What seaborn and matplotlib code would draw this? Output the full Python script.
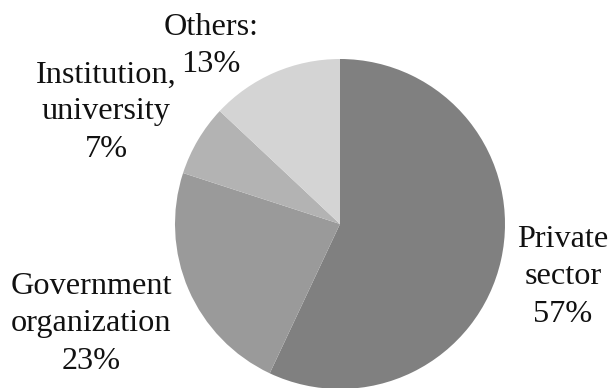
import matplotlib.pyplot as plt
import seaborn as sns

# slice data, clockwise from 12 o'clock
sectors = ["Private\nsector", "Government\norganization", "Institution,\nuniversity", "Others:"]
shares = [57, 23, 7, 13]
greys = ["#808080", "#9a9a9a", "#b3b3b3", "#d4d4d4"]

sns.set_theme(style="white")
plt.rcParams['font.family'] = ['Liberation Serif', 'DejaVu Serif']

fig = plt.figure(figsize=(6.12, 3.88), dpi=100)
ax = fig.add_axes([0, 0, 1, 1])

ax.pie(shares, colors=greys, startangle=90, counterclock=False,
       center=(340, 164), radius=165, frame=True,
       wedgeprops={'linewidth': 0})
ax.set_xlim(0, 612)
ax.set_ylim(0, 388)
ax.set_aspect('equal')
ax.axis('off')

# label anchor points (pixel coords, y from bottom)
label_pos = [(563, 111), (91, 64), (106, 276), (211, 342)]
for name, v, (x, y) in zip(sectors, shares, label_pos):
    ax.text(x, y, f"{name}\n{v}%", ha='center', va='center',
            multialignment='center', fontsize=23.2, linespacing=1.37,
            color='#111111')

plt.savefig('out.png', dpi=100)
